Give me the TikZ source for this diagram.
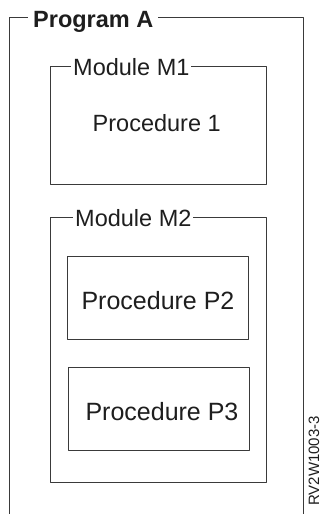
\documentclass[tikz,border=0pt]{standalone}
\usepackage{fontspec}
\setmainfont{Liberation Sans}
\usetikzlibrary{positioning}
\definecolor{frame}{HTML}{3A3A3A}
\definecolor{ink}{HTML}{1E1E1E}
\begin{document}
\begin{tikzpicture}[x=1pt, y=-1pt, line join=round, line cap=round]
			\tikzset{box/.style={draw=frame, line width=0.9pt, inner sep=0pt},
				title/.style={fill=white, inner sep=2pt, anchor=base west, text=ink, font=\fontsize{23.5}{28}\selectfont},
				proctext/.style={anchor=base, text=ink, font=\fontsize{23.5}{28}\selectfont}}
			\useasboundingbox (0,0) rectangle (322,514);
			% program frame, open at the bottom
			\coordinate (pbl) at (9,514);
			\coordinate (ptl) at (9,17);
			\coordinate (ptr) at (303,17);
			\coordinate (pbr) at (303,514);
			\draw[frame, line width=0.9pt] (pbl) -- (ptl) -- (ptr) -- (pbr);
			\node[title, inner sep=5pt, font=\bfseries\fontsize{23.5}{28}\selectfont] (progA) at (28,27.3) {Program A};
			% module M1
			\node[box, minimum width=216.7pt, minimum height=117.3pt] (m1) at (158.3,125.3) {};
			\node[title] (m1title) at (71,75) {Module M1};
			\node[proctext] (proc1) at (156.7,131.7) {Procedure 1};
			% module M2
			\node[box, minimum width=216.7pt, minimum height=265pt] (m2) at (158.3,349.8) {};
			\node[title] (m2title) at (73,226) {Module M2};
			\node[box, minimum width=181.3pt, minimum height=82.3pt] (p2) at (157.7,297.8) {};
			\node[proctext, font=\fontsize{25}{30}\selectfont] (p2text) at (158,309.3) {Procedure P2};
			\node[box, minimum width=181pt, minimum height=82.7pt] (p3) at (158.8,408.7) {};
			\node[proctext, font=\fontsize{25}{30}\selectfont] (p3text) at (162,420) {Procedure P3};
			% figure number
			\node[anchor=base, rotate=90, text=ink, inner sep=0pt, font=\fontsize{15}{18}\selectfont] (fignum) at (319,461) {RV2W1003-3};
		\end{tikzpicture}
\end{document}
